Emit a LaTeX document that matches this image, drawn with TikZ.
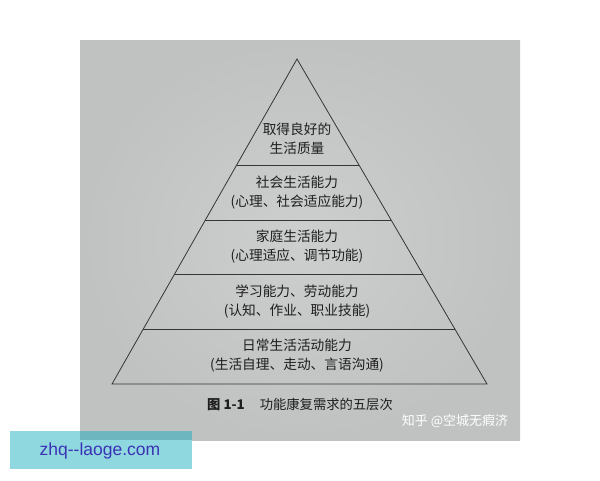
\documentclass[tikz,border=0pt]{standalone}
\usepackage{fontspec}
\setmainfont{Noto Sans CJK SC}
\newfontfamily\latinsans{Liberation Sans}
\usetikzlibrary{calc}
\definecolor{photo}{HTML}{C0C1C1}
\definecolor{photoin}{HTML}{CDCECE}
\definecolor{ink}{HTML}{1E1E1E}
\definecolor{teal}{HTML}{90D8E0}
\definecolor{tealdark}{HTML}{6EB6BF}
\definecolor{urlblue}{HTML}{3A32B4}
\tikzset{
  pyrline/.style={draw=ink!90, line width=0.8pt},
  layertext/.style={text=ink, font=\fontsize{13.7}{19}\selectfont, align=center, inner sep=0pt},
}
\begin{document}
\begin{tikzpicture}[x=1pt,y=-1pt]
\useasboundingbox (0,0) rectangle (600,480);
\fill[white] (0,0) rectangle (600,480);
% photo background
\shade[inner color=photoin, outer color=photo] (80,40) rectangle (520,440);
% pyramid
\coordinate (apex) at (297,59);
\coordinate (bl) at (112,384);
\coordinate (br) at (487,384);
\draw[pyrline, line join=miter] (apex) -- (bl) -- (br) -- cycle;
\foreach \t/\n in {0.3262/a,0.4954/b,0.6615/c,0.8308/d}{
  \coordinate (l\n) at ($(apex)!\t!(bl)$);
  \coordinate (r\n) at ($(apex)!\t!(br)$);
  \draw[pyrline] (l\n) -- (r\n);
}
% layer texts
\node[layertext] (t1) at (297,139) {取得良好的\\生活质量};
\node[layertext] (t2) at (297,193) {社会生活能力\\(心理、社会适应能力)};
\node[layertext] (t3) at (297,247) {家庭生活能力\\(心理适应、调节功能)};
\node[layertext] (t4) at (297,302) {学习能力、劳动能力\\(认知、作业、职业技能)};
\node[layertext] (t5) at (297,356) {日常生活活动能力\\(生活自理、走动、言语沟通)};
% caption
\node[anchor=west, text=ink, inner sep=0pt, font=\fontsize{13.3}{16}\selectfont] (cap) at (207,404)
  {{\bfseries 图 1-1}\hspace{15pt}功能康复需求的五层次};
% watermark
\node[text=white, inner sep=0pt, font=\fontsize{13}{16}\selectfont] (wm) at (455,421) {知乎 @空城无瘕济};
% url box
\fill[teal] (10,431) rectangle (192,469);
\fill[tealdark] (80,431) rectangle (192,440);
\node[text=urlblue, inner sep=0pt, font=\latinsans\fontsize{17.5}{19}\selectfont] (url) at (100,451) {zhq--laoge.com};
\end{tikzpicture}
\end{document}
